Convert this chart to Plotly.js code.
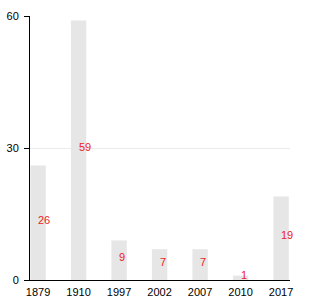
<!DOCTYPE html>
<html><head><meta charset="utf-8">
<script src="https://cdn.plot.ly/plotly-3.0.1.min.js"></script>
<style>html,body{margin:0;padding:0;background:#fff}#c{width:330px;height:300px}</style>
</head><body><div id="c"></div>
<script>
var categories = ["1879", "1910", "1997", "2002", "2007", "2010", "2017"];
var values = [26, 59, 9, 7, 7, 1, 19];
var yTicks = [0, 30, 60];

var bars = {
  type: 'bar', x: categories, y: values, width: 0.38,
  marker: {color: '#e6e6e6'}, hoverinfo: 'none'
};
var annotations = categories.map(function(c, i){
  return {x: i, y: values[i] / 2 + 0.7, xref: 'x', yref: 'y', text: String(values[i]),
    showarrow: false, xanchor: 'left', yanchor: 'middle', xshift: -2,
    font: {color: '#ec1c24', size: 11, family: 'Liberation Sans, Arial, sans-serif'}};
});
var layout = {
  width: 330, height: 300,
  margin: {l: 30, r: 40, t: 16, b: 20},
  showlegend: false, plot_bgcolor: '#fff', paper_bgcolor: '#fff',
  font: {family: 'Liberation Sans, Arial, sans-serif', size: 11, color: '#000'},
  annotations: annotations,
  xaxis: {type: 'category', range: [-0.2, 6.22], showline: true, linecolor: '#000', linewidth: 1,
          ticks: '', showgrid: false, zeroline: false, ticklabelstandoff: 2, fixedrange: true},
  yaxis: {range: [0, 60], tickvals: yTicks, showline: true, linecolor: '#000', linewidth: 1,
          ticks: 'outside', ticklen: 5, tickcolor: '#000', showgrid: true, gridcolor: '#ebebeb',
          zeroline: false, ticklabelstandoff: 3, fixedrange: true}
};
Plotly.newPlot('c', [bars], layout, {displayModeBar: false, staticPlot: true});
</script></body></html>
